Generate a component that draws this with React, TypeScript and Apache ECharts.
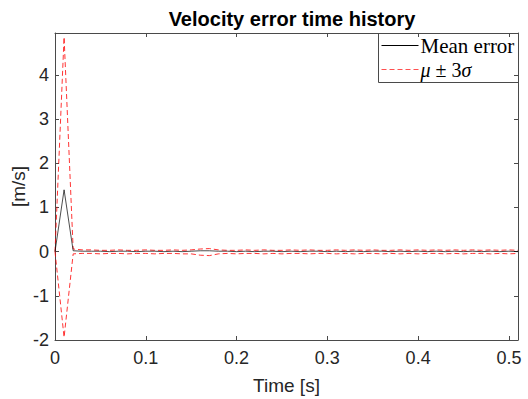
import React, { useEffect, useRef } from "react";
import * as echarts from "echarts";

const timeS = [
  0, 0.01, 0.02, 0.03, 0.04, 0.05, 0.06, 0.07, 0.08, 0.09,
  0.1, 0.11, 0.12, 0.13, 0.14, 0.15, 0.16, 0.17, 0.18, 0.19,
  0.2, 0.21, 0.22, 0.23, 0.24, 0.25, 0.26, 0.27, 0.28, 0.29,
  0.3, 0.31, 0.32, 0.33, 0.34, 0.35, 0.36, 0.37, 0.38, 0.39,
  0.4, 0.41, 0.42, 0.43, 0.44, 0.45, 0.46, 0.47, 0.48, 0.49,
  0.5, 0.51,
];

const meanError = [
  0, 1.4, 0.02, 0.01, 0.01, 0.01, 0.0, 0.01, 0.01, 0.0,
  0.01, 0.01, 0.0, 0.01, 0.0, 0.01, 0.02, 0.02, 0.01, 0.01,
  0.0, 0.01, 0.0, 0.01, 0.01, 0.0, 0.01, 0.0, 0.01, 0.01,
  0.0, 0.01, 0.0, 0.01, 0.0, 0.01, 0.01, 0.0, 0.01, 0.0,
  0.01, 0.0, 0.01, 0.0, 0.01, 0.0, 0.01, 0.0, 0.01, 0.0,
  0.01, 0.0,
];

const upperBound = [
  0, 4.86, 0.06, 0.04, 0.04, 0.03, 0.03, 0.04, 0.03, 0.03,
  0.04, 0.03, 0.03, 0.04, 0.03, 0.04, 0.06, 0.07, 0.04, 0.03,
  0.03, 0.04, 0.03, 0.04, 0.03, 0.03, 0.04, 0.03, 0.04, 0.03,
  0.03, 0.04, 0.03, 0.04, 0.03, 0.04, 0.03, 0.03, 0.04, 0.03,
  0.04, 0.03, 0.04, 0.03, 0.04, 0.03, 0.04, 0.03, 0.04, 0.03,
  0.04, 0.03,
];

const lowerBound = [
  0, -1.94, -0.05, -0.04, -0.04, -0.05, -0.04, -0.04, -0.05, -0.04,
  -0.04, -0.05, -0.04, -0.04, -0.05, -0.05, -0.08, -0.09, -0.05, -0.04,
  -0.05, -0.04, -0.04, -0.05, -0.04, -0.05, -0.04, -0.04, -0.05, -0.04,
  -0.04, -0.05, -0.04, -0.05, -0.04, -0.04, -0.05, -0.04, -0.05, -0.04,
  -0.05, -0.04, -0.04, -0.05, -0.04, -0.05, -0.04, -0.04, -0.05, -0.04,
  -0.05, -0.04,
];

const MEAN_NAME = "Mean error";
const BOUND_NAME = "μ ± 3σ";

const pair = (vals: number[]) => vals.map((v, i) => [timeS[i], v]);

export default function App() {
  const ref = useRef<HTMLDivElement>(null);
  useEffect(() => {
    if (!ref.current) return;
    const chart = echarts.init(ref.current, undefined, { renderer: "svg" });
    const axisColor = "#4a4a4a";
    const font = "'Liberation Sans', Arial, sans-serif";
    const serif = "'Liberation Serif', 'DejaVu Serif', serif";
    const xBase = {
      type: "value" as const,
      min: 0,
      max: 0.51,
      interval: 0.1,
      splitLine: { show: false },
      axisLine: { show: true, onZero: false, lineStyle: { color: axisColor, width: 1 } },
      axisTick: { show: true, inside: true, length: 4, lineStyle: { color: axisColor } },
    };
    const yBase = {
      type: "value" as const,
      min: -2,
      max: 4.95,
      interval: 1,
      splitLine: { show: false },
      axisLine: { show: true, onZero: false, lineStyle: { color: axisColor, width: 1 } },
      axisTick: { show: true, inside: true, length: 4, lineStyle: { color: axisColor } },
    };
    chart.setOption({
      animation: false,
      backgroundColor: "#ffffff",
      title: {
        text: "Velocity error time history",
        left: 287,
        textAlign: "center",
        top: 4,
        textStyle: { fontFamily: font, fontWeight: "bold", fontSize: 20, color: "#000" },
      },
      grid: {
        left: 55,
        right: 10,
        top: 33,
        bottom: 59,
        containLabel: false,
        outerBoundsMode: "none",
      },
      xAxis: [
        {
          ...xBase,
          position: "bottom",
          name: "Time [s]",
          nameLocation: "middle",
          nameGap: 36,
          nameMoveOverlap: false,
          nameTextStyle: { fontFamily: font, fontSize: 19, color: "#262626" },
          axisLabel: {
            show: true,
            showMaxLabel: false,
            margin: 9,
            fontFamily: font,
            fontSize: 18,
            color: "#262626",
            formatter: (v: number) => String(Math.round(v * 10) / 10),
          },
        },
        {
          ...xBase,
          position: "top",
          axisLabel: { show: false },
        },
      ],
      yAxis: [
        {
          ...yBase,
          position: "left",
          name: "[m/s]",
          nameLocation: "middle",
          nameGap: 27,
          nameMoveOverlap: false,
          nameTextStyle: { fontFamily: font, fontSize: 19, color: "#262626" },
          axisLabel: {
            show: true,
            showMaxLabel: false,
            margin: 6,
            fontFamily: font,
            fontSize: 18,
            color: "#262626",
          },
        },
        {
          ...yBase,
          position: "right",
          axisLabel: { show: false },
        },
      ],
      graphic: [
        {
          type: "group",
          left: 378,
          top: 33,
          z: 100,
          children: [
            {
              type: "rect",
              shape: { x: 0, y: 0, width: 140, height: 49 },
              style: { fill: "#fff", stroke: axisColor, lineWidth: 1 },
            },
            {
              type: "line",
              shape: { x1: 3, y1: 12, x2: 40, y2: 12 },
              style: { stroke: "#000", lineWidth: 1 },
            },
            {
              type: "text",
              x: 42,
              y: 12,
              style: {
                text: MEAN_NAME,
                fontFamily: serif,
                fontSize: 21,
                fill: "#000",
                verticalAlign: "middle",
              },
            },
            {
              type: "line",
              shape: { x1: 3, y1: 36, x2: 40, y2: 36 },
              style: { stroke: "#ff5050", lineWidth: 1, lineDash: [5, 3] },
            },
            {
              type: "text",
              x: 42,
              y: 36,
              style: {
                text: "{i|μ}{n| ± 3}{i|σ}",
                verticalAlign: "middle",
                rich: {
                  i: { fontFamily: serif, fontSize: 20, fontStyle: "italic", fill: "#000" },
                  n: { fontFamily: serif, fontSize: 20, fill: "#000" },
                },
              },
            },
          ],
        },
      ],
      series: [
        {
          name: MEAN_NAME,
          type: "line",
          data: pair(meanError),
          showSymbol: false,
          symbol: "none",
          lineStyle: { color: "#000", width: 0.7 },
          z: 3,
        },
        {
          name: BOUND_NAME,
          type: "line",
          data: pair(upperBound),
          showSymbol: false,
          symbol: "none",
          lineStyle: { color: "#ff0000", width: 0.8, type: [5, 3] },
          z: 2,
        },
        {
          name: BOUND_NAME,
          type: "line",
          data: pair(lowerBound),
          showSymbol: false,
          symbol: "none",
          lineStyle: { color: "#ff0000", width: 0.8, type: [5, 3] },
          z: 2,
        },
      ],
    });
    return () => chart.dispose();
  }, []);
  return (
    <div
      ref={ref}
      style={{ position: "fixed", left: 0, top: 0, width: 528, height: 399 }}
    />
  );
}
